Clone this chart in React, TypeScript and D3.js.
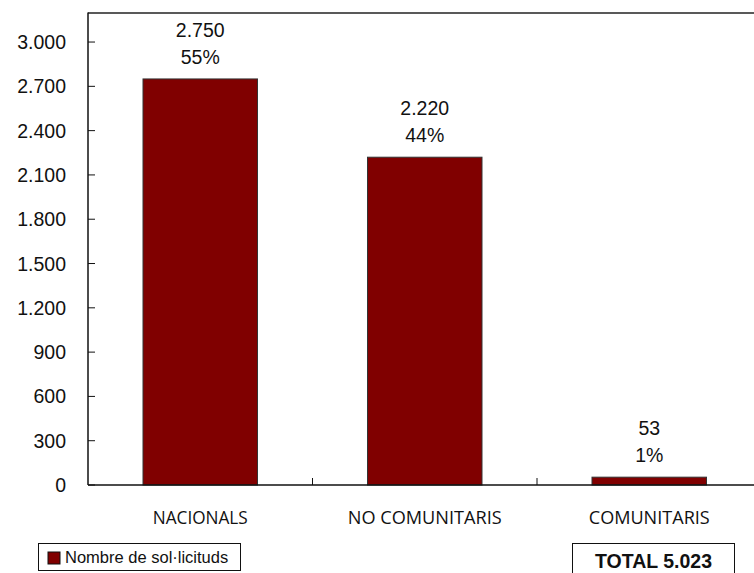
import React from "react";
import * as d3 from "d3";

const categories = ["NACIONALS", "NO COMUNITARIS", "COMUNITARIS"];
const values = [2750, 2220, 53];
const percents = ["55%", "44%", "1%"];
const yTicks = [0, 300, 600, 900, 1200, 1500, 1800, 2100, 2400, 2700, 3000];
const legendLabel = "Nombre de sol·licituds";
const totalLabel = "TOTAL 5.023";

const W = 754;
const H = 573;
const left = 88;
const right = 761.5;
const top = 12.5;
const bottom = 485;

const fmt = (v: number) => d3.format(",")(v).replace(/,/g, ".");

export default function App() {
  const x = d3.scaleBand<string>().domain(categories).range([left, right]).paddingInner(0.49).paddingOuter(0.245);
  const xb = d3.scaleBand<string>().domain(categories).range([left, right]);
  const y = d3.scaleLinear().domain([0, 3200]).range([bottom, top]);
  const arial = "'Liberation Sans', Arial, sans-serif";
  const catWidths = [95, 154, 121];
  return (
    <svg width={W} height={H} style={{ position: "absolute", left: 0, top: 0, background: "#fff" }}>
      <rect x={0} y={0} width={W} height={H} fill="#fff" />
      {/* frame */}
      <line x1={left} y1={top + 0.5} x2={W} y2={top + 0.5} stroke="#222" strokeWidth={1.5} />
      <line x1={left} y1={top} x2={left} y2={bottom} stroke="#111" strokeWidth={1.5} />
      {yTicks.map((t) => (
        <g key={t}>
          <line x1={left} x2={left + 7} y1={y(t)} y2={y(t)} stroke="#111" strokeWidth={1} />
          <text x={66} y={y(t) + 7} textAnchor="end" fontFamily={arial} fontSize={19.5} fill="#111">
            {fmt(t)}
          </text>
        </g>
      ))}
      {categories.map((c, i) => (
        <g key={c}>
          <rect
            x={x(c)!}
            y={y(values[i])}
            width={x.bandwidth()}
            height={bottom - y(values[i])}
            fill="#800000"
            stroke="#333"
            strokeWidth={1}
          />
          <text x={x(c)! + x.bandwidth() / 2} y={y(values[i]) - 42} textAnchor="middle" fontFamily={arial} fontSize={19.5} fill="#111">
            {fmt(values[i])}
          </text>
          <text x={x(c)! + x.bandwidth() / 2} y={y(values[i]) - 15} textAnchor="middle" fontFamily={arial} fontSize={19.5} fill="#111">
            {percents[i]}
          </text>
          <text
            x={xb(c)! + xb.bandwidth() / 2}
            y={524}
            textAnchor="middle"
            fontFamily="'Open Sans', sans-serif"
            fontSize={19}
            textLength={catWidths[i]}
            lengthAdjust="spacingAndGlyphs"
            fill="#111"
          >
            {c}
          </text>
        </g>
      ))}
      {categories.slice(1).map((c) => (
        <line key={c} x1={xb(c)!} x2={xb(c)!} y1={bottom} y2={bottom - 7} stroke="#111" strokeWidth={1} />
      ))}
      <line x1={left} y1={bottom} x2={W} y2={bottom} stroke="#111" strokeWidth={1.5} />
      {/* legend */}
      <rect x={38.5} y={543.5} width={202} height={27} fill="#fff" stroke="#111" strokeWidth={1} />
      <rect x={48} y={552} width={12} height={12} fill="#800000" stroke="#111" strokeWidth={1} />
      <text x={65} y={563} fontFamily={arial} fontSize={16.5} fill="#111">
        {legendLabel}
      </text>
      {/* total */}
      <rect x={572.5} y={543.5} width={162} height={40} fill="#fff" stroke="#111" strokeWidth={1} />
      <text x={653.5} y={568} textAnchor="middle" fontFamily={arial} fontWeight="bold" fontSize={19.5} fill="#111">
        {totalLabel}
      </text>
    </svg>
  );
}
